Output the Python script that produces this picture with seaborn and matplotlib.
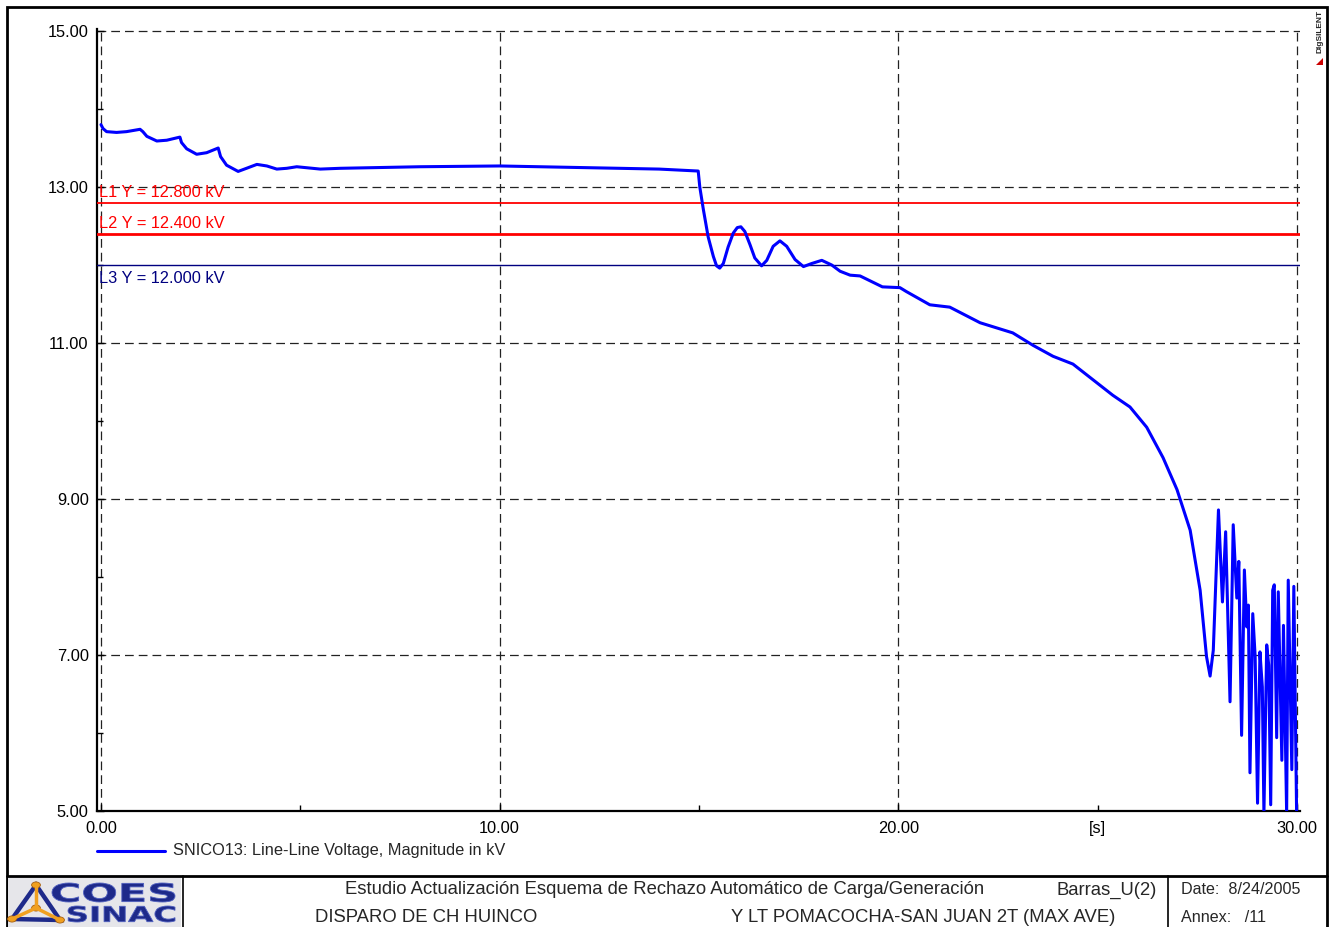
import numpy as np
import pandas as pd
import seaborn as sns
from matplotlib import pyplot as plt
from matplotlib.patches import Rectangle, Polygon, Circle, PathPatch
from matplotlib.lines import Line2D
from matplotlib.textpath import TextPath
from matplotlib.font_manager import FontProperties
from matplotlib.transforms import Affine2D

sns.set_style("white")
plt.rcParams["font.family"] = ["Liberation Sans", "DejaVu Sans"]

W, H = 1334, 927

# voltage trace (time in s, voltage in kV)
time_s = [0.0, 0.05, 0.14, 0.39, 0.64, 0.98, 1.05, 1.15, 1.40, 1.65, 1.98, 2.02,
          2.15, 2.40, 2.65, 2.94, 3.0, 3.15, 3.44, 3.65, 3.91, 4.16, 4.41, 4.66,
          4.91, 5.5, 6.0, 8.0, 10.0, 12.0, 14.0, 14.98,
          15.02, 15.11, 15.23, 15.36, 15.44, 15.52, 15.61, 15.73, 15.86, 15.96,
          16.05, 16.15, 16.28, 16.40, 16.57, 16.70, 16.86, 17.03, 17.20, 17.41,
          17.62, 17.83, 18.08, 18.33, 18.54, 18.79, 19.04, 19.2, 19.6, 20.04,
          20.2, 20.79, 21.29, 22.05, 22.87, 23.38, 23.88, 24.38, 24.88, 25.38,
          25.81, 26.23, 26.64, 26.99, 27.32, 27.57, 27.73, 27.82, 27.9,
          28.03, 28.13, 28.21, 28.32, 28.40, 28.49, 28.54, 28.61, 28.68, 28.74,
          28.78, 28.82, 28.89, 28.95, 29.01, 29.07, 29.13, 29.17, 29.24, 29.29,
          29.34, 29.39, 29.43, 29.49, 29.53, 29.62, 29.66, 29.74, 29.78, 29.87,
          29.92, 29.99]
voltage_kv = [13.80, 13.75, 13.71, 13.70, 13.71, 13.74, 13.71, 13.65, 13.59, 13.60, 13.64, 13.57,
              13.49, 13.42, 13.44, 13.50, 13.39, 13.28, 13.20, 13.24, 13.29, 13.27, 13.23, 13.24,
              13.26, 13.23, 13.24, 13.26, 13.27, 13.25, 13.23, 13.205,
              13.00, 12.71, 12.36, 12.11, 11.99, 11.96, 12.02, 12.23, 12.41, 12.48,
              12.49, 12.43, 12.26, 12.09, 11.99, 12.06, 12.24, 12.31, 12.24, 12.07,
              11.98, 12.02, 12.06, 12.00, 11.92, 11.87, 11.86, 11.82, 11.72, 11.71,
              11.66, 11.49, 11.46, 11.26, 11.13, 10.97, 10.83, 10.73, 10.53, 10.33,
              10.18, 9.92, 9.53, 9.12, 8.60, 7.83, 6.98, 6.73, 7.06,
              8.86, 7.68, 8.58, 6.40, 8.67, 7.73, 8.20, 5.97, 8.09, 7.36,
              7.64, 5.49, 7.53, 6.98, 5.10, 7.04, 6.59, 4.97, 7.13, 6.87,
              5.08, 7.83, 7.90, 5.94, 7.81, 5.65, 7.38, 4.97, 7.96, 5.53,
              7.88, 4.97]

limit_names = ["L1", "L2", "L3"]
limit_values = [12.8, 12.4, 12.0]
limit_colors = ["#ff0000", "#ff0000", "#000080"]
limit_widths = [1.3, 2.0, 1.0]

y_ticks = [5, 7, 9, 11, 13, 15]
x_ticks = [0, 10, 20, 30]
x_minor_ticks = [5, 15, 25]
x_minor_labels = ["", "", "[s]"]

df = pd.DataFrame({"t": time_s, "u": voltage_kv})


def fx(px):
    return px / W


def fy(py):
    return 1 - py / H


def stretched_text(fig, s, x0, x1, ytop, ybot, color):
    # logo lettering squeezed into a pixel box
    tp = TextPath((0, 0), s, size=10, prop=FontProperties(family="DejaVu Sans", weight="bold"))
    bb = tp.get_extents()
    sx = (x1 - x0) / bb.width
    sy = (ybot - ytop) / bb.height
    tr = Affine2D().translate(-bb.x0, -bb.y0).scale(sx, sy).translate(x0, H - ybot)
    fig.add_artist(PathPatch(tp, transform=tr, facecolor=color, edgecolor="#5060c0",
                             linewidth=0.6))


fig = plt.figure(figsize=(W / 100, H / 100), dpi=100)
ax = fig.add_axes([fx(97), fy(811), (1300 - 97) / W, (811 - 29) / H])

sns.lineplot(data=df, x="t", y="u", ax=ax, color="#0000ff", linewidth=2.2,
             legend=False, zorder=5)

ax.set_xlim(-0.1, 30.075)
ax.set_ylim(5.0, 15.026)
ax.set_xlabel("")
ax.set_ylabel("")

# limit lines with their labels
for name, val, col, lw in zip(limit_names, limit_values, limit_colors, limit_widths):
    ax.axhline(val, color=col, linewidth=lw, zorder=4)
    label = f"{name} Y = {val:.3f} kV"
    if name == "L3":
        ax.text(-0.04, val - 0.08, label, color=col, fontsize=11.8, ha="left", va="top")
    else:
        ax.text(-0.04, val + 0.03, label, color=col, fontsize=11.8, ha="left", va="bottom")

ax.set_xticks(x_ticks)
ax.set_xticklabels([f"{v:.2f}" for v in x_ticks])
ax.set_xticks(x_minor_ticks, minor=True)
ax.set_xticklabels(x_minor_labels, minor=True)
ax.set_yticks(y_ticks)
ax.set_yticklabels([f"{v:.2f}" for v in y_ticks])
ax.set_yticks(np.arange(6, 15, 2), minor=True)
ax.tick_params(axis="both", which="both", direction="in", width=1,
               labelsize=11.8, colors="black")
ax.tick_params(axis="both", which="major", length=5)
ax.tick_params(axis="both", which="minor", length=4)
ax.tick_params(axis="y", which="both", pad=6, left=True)
ax.tick_params(axis="x", which="both", pad=7, bottom=True)

ax.grid(True, which="major", color="#222222", linestyle=(0, (7, 4)), linewidth=0.9)
ax.grid(False, which="minor")
for side in ["top", "right"]:
    ax.spines[side].set_visible(False)
for side in ["left", "bottom"]:
    ax.spines[side].set_color("black")
    ax.spines[side].set_linewidth(1.6)

# legend below the plot
fig.add_artist(Line2D([fx(97), fx(165)], [fy(851), fy(851)], color="#0000ff", linewidth=2.2))
fig.text(fx(173), fy(851), "SNICO13: Line-Line Voltage, Magnitude in kV",
         fontsize=11.8, va="center", ha="left")

# outer frame and title block
fig.add_artist(Rectangle((fx(7), -0.01), fx(1327) - fx(7), fy(7) + 0.01,
                         fill=False, edgecolor="black", linewidth=2))
fig.add_artist(Line2D([fx(7), fx(1327)], [fy(876), fy(876)], color="black", linewidth=2))
fig.add_artist(Line2D([fx(183), fx(183)], [fy(876), 0], color="black", linewidth=1.2))
fig.add_artist(Line2D([fx(1168), fx(1168)], [fy(876), 0], color="black", linewidth=1.2))

fig.text(fx(665), fy(890), "Estudio Actualización Esquema de Rechazo Automático de Carga/Generación",
         fontsize=13.3, ha="center", va="center")
fig.text(fx(1157), fy(890), "Barras_U(2)", fontsize=13.3, ha="right", va="center")
fig.text(fx(315), fy(918), "DISPARO DE CH HUINCO", fontsize=13.3, ha="left", va="center")
fig.text(fx(1115), fy(918), "Y LT POMACOCHA-SAN JUAN 2T (MAX AVE)", fontsize=13.3,
         ha="right", va="center")
fig.text(fx(1181), fy(890), "Date:  8/24/2005", fontsize=11.6, ha="left", va="center")
fig.text(fx(1181), fy(918), "Annex:   /11", fontsize=11.6, ha="left", va="center")

# logo block
fig.add_artist(Rectangle((fx(8), 0), fx(181) - fx(8), fy(877), facecolor="#e6e6ea",
                         edgecolor="none"))
tri = [(12, 919), (60, 920), (36, 885)]
for vx, vy in tri:
    fig.add_artist(Line2D([fx(36), fx(vx)], [fy(908), fy(vy)], color="#f0a020", linewidth=2.5))
fig.add_artist(Polygon([[fx(x), fy(y)] for x, y in tri], closed=True, fill=False,
                       edgecolor="#1e2a8a", linewidth=3.2))
for cx, cy in tri + [(36, 908)]:
    fig.add_artist(Circle((fx(cx), fy(cy)), 0.0033, facecolor="#f0a020",
                          edgecolor="#a86010", linewidth=0.6))
stretched_text(fig, "COES", 52, 175, 883, 902, "#1e2a8a")
stretched_text(fig, "SINAC", 68, 175, 906, 922, "#1e2a8a")

# DIgSILENT tag
fig.text(fx(1320), fy(10), "DIgSILENT", fontsize=6, fontweight="bold", rotation=90,
         ha="center", va="top")
fig.add_artist(Polygon([[fx(1316), fy(65)], [fx(1323), fy(65)], [fx(1323), fy(58)]],
                       closed=True, facecolor="#cc0000", edgecolor="none"))

fig.savefig("out.png", dpi=100)
